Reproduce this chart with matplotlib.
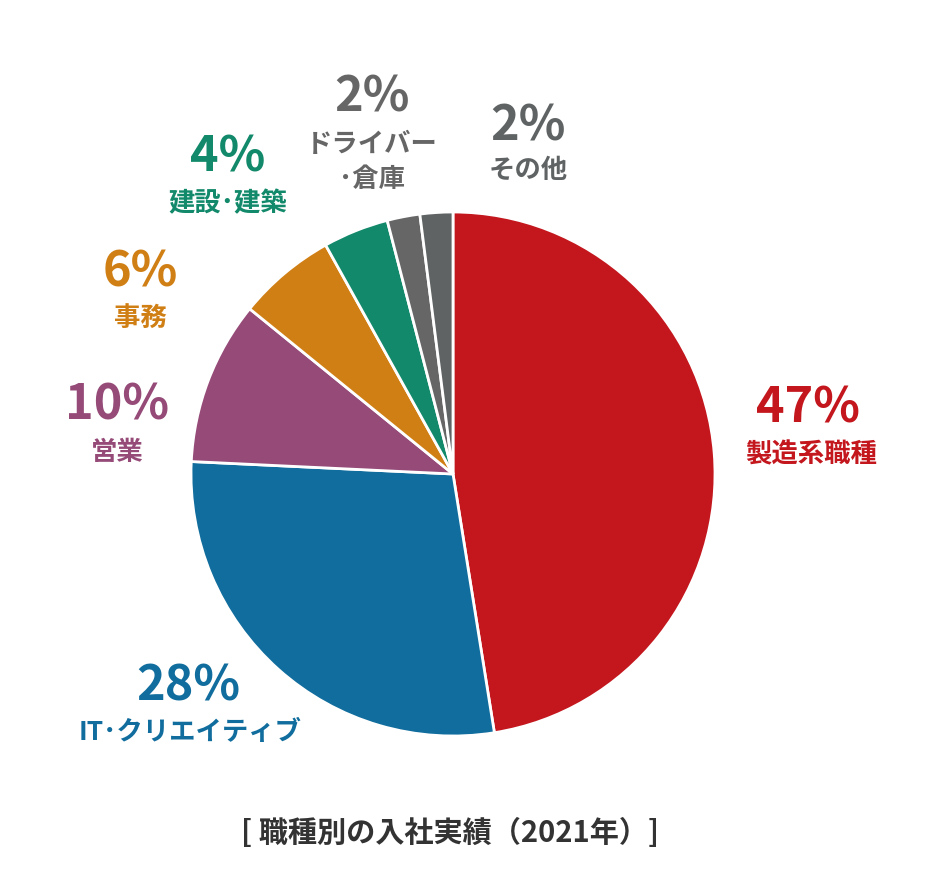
import matplotlib
matplotlib.use("Agg")
import matplotlib.pyplot as plt

plt.rcParams['font.family'] = ['Noto Sans CJK JP', 'DejaVu Sans']

# data
categories = ['製造系職種', 'IT･クリエイティブ', '営業', '事務', '建設･建築', 'ドライバー\n･倉庫', 'その他']
shares     = [47, 28, 10, 6, 4, 2, 2]
colors     = ['#C3161D', '#106D9D', '#954A78', '#D07F14', '#12896A', '#666666', '#5F6364']
title_text = '[ 職種別の入社実績（2021年）]'

W, H = 938, 890
fig = plt.figure(figsize=(W / 100, H / 100), dpi=100)
ax = fig.add_axes([0, 0, 1, 1])

# pie centred in pixel space
cx, cy, r = 453, H - 474, 262
ax.pie(shares, colors=colors, startangle=90, counterclock=False,
       center=(cx, cy), radius=r, frame=True,
       wedgeprops=dict(edgecolor='white', linewidth=2))
ax.set_xlim(0, W)
ax.set_ylim(0, H)
ax.set_aspect('equal')
ax.axis('off')

# label positions (pixels from top-left)
pct_pos = [(808, 408), (188, 686), (117, 405), (140, 272), (228, 157), (372, 97), (528, 126)]
lab_pos = [(811, 455), (190, 733), (117, 452), (140, 318), (228, 204), (372, 162), (528, 170)]

for i in range(len(categories)):
    px, py = pct_pos[i]
    ax.text(px, H - py, f'{shares[i]}%', color=colors[i], fontsize=35,
            fontweight='bold', ha='center', va='center')
    lx, ly = lab_pos[i]
    ax.text(lx, H - ly, categories[i], color=colors[i], fontsize=19,
            fontweight='bold', ha='center', va='center', linespacing=1.35)

ax.text(450, H - 833, title_text, color='#333333', fontsize=21,
        fontweight='bold', ha='center', va='center')

fig.savefig('out.png', dpi=100, facecolor='white')
